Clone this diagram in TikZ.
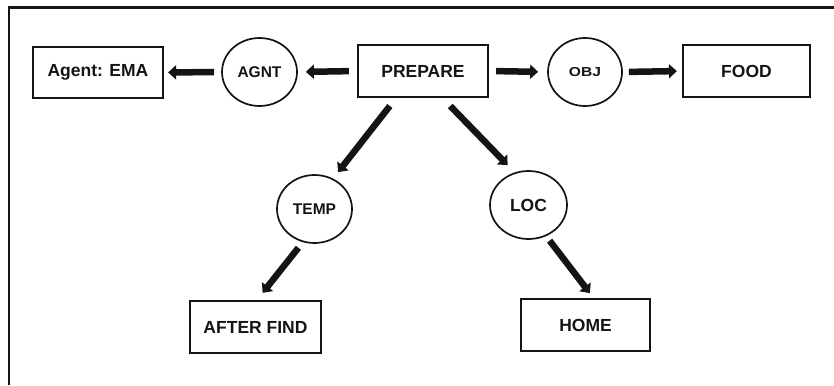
\documentclass[tikz,border=0pt]{standalone}
\usepackage{fontspec}
\setmainfont{Liberation Sans}
\usetikzlibrary{arrows.meta,calc,shapes.geometric}
\definecolor{ink}{HTML}{141414}
\begin{document}
\begin{tikzpicture}[x=1pt,y=-1pt,
  concept/.style={draw=ink,line width=2.2pt,rectangle,inner sep=0pt,
    font=\bfseries\fontsize{17.5}{20}\selectfont,text=ink},
  relation/.style={draw=ink,line width=1.7pt,ellipse,inner sep=0pt,
    font=\bfseries,text=ink},
  link/.style={draw=ink,line width=6.5pt,
    -{Triangle[length=8pt,width=14pt]}}]
  \useasboundingbox (0,0) rectangle (834,385);
  % open frame: only the top and left edges
  \draw[ink,line width=2.2pt] (9,385) -- (9,7.5) -- (834,7.5);

  % concepts
  \node[concept,minimum width=130pt,minimum height=51pt] (ema)   at (98,72.5)  {Agent: EMA};
  \node[concept,minimum width=130pt,minimum height=52pt] (prep)  at (423,71)   {PREPARE};
  \node[concept,minimum width=127pt,minimum height=52pt] (food)  at (746.5,71) {FOOD};
  \node[concept,minimum width=131pt,minimum height=52pt] (after) at (255.5,327) {AFTER FIND};
  \node[concept,minimum width=129pt,minimum height=52pt] (home)  at (585.5,325) {HOME};

  % relations
  \node[relation,minimum width=75pt,minimum height=68pt] (agnt) at (259.5,72)
    {\fontsize{15.5}{18}\selectfont AGNT};
  \node[relation,minimum width=74pt,minimum height=68pt] (obj) at (585,72)
    {\scalebox{1.2}[1]{\fontsize{13}{15}\selectfont OBJ}};
  \node[relation,minimum width=75pt,minimum height=68pt] (temp) at (314.5,209)
    {\fontsize{15.5}{18}\selectfont TEMP};
  \node[relation,minimum width=77pt,minimum height=68pt] (loc) at (528.5,205)
    {\fontsize{17.5}{20}\selectfont LOC};

  % arcs of the conceptual graph
  \draw[link,shorten <=8pt,shorten >=8pt] (prep.west) -- (agnt.east);
  \draw[link,shorten <=7pt,shorten >=4pt] (agnt.west) -- (ema.east);
  \draw[link,shorten <=7pt,shorten >=9pt] (prep.east) -- (obj.west);
  \draw[link,shorten <=6pt,shorten >=5pt] (obj.east) -- (food.west);
  \draw[link,shorten <=10pt,shorten >=2.5pt]
    ($(prep.south)+(-27,0)$) -- ($(temp.north)+(22,0)$);
  \draw[link,shorten <=11pt,shorten >=7pt]
    ($(prep.south)+(19.6,0)$) -- ($(loc.north)+(-16,0)$);
  \draw[link,shorten <=5pt,shorten >=9pt]
    ($(temp.south)+(-13,0)$) -- ($(after.north)+(1.5,0)$);
  \draw[link,shorten <=1pt,shorten >=6pt]
    ($(loc.south)+(20.5,0)$) -- ($(home.north)+(8,0)$);
\end{tikzpicture}
\end{document}
